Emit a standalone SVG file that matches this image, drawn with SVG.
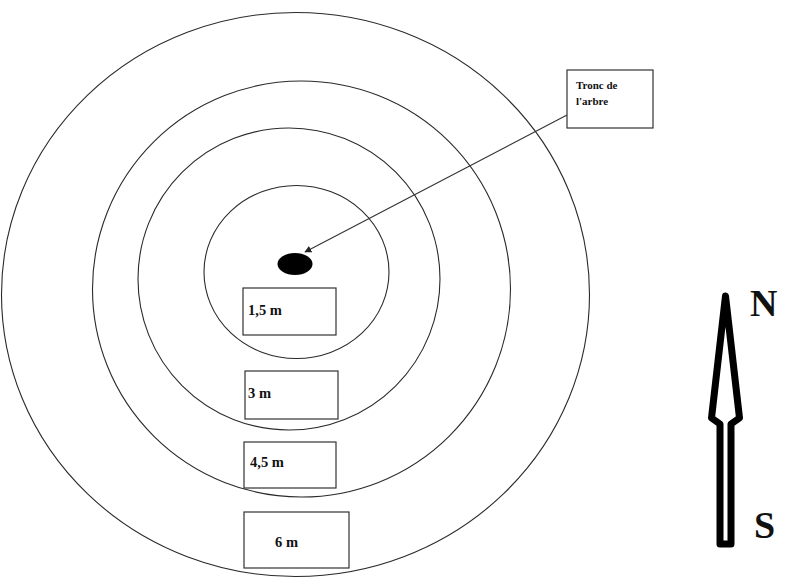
<svg xmlns="http://www.w3.org/2000/svg" width="788" height="580" viewBox="0 0 788 580">
<style>
.ring{fill:none;stroke:#2a2a2a;stroke-width:1.1}
.lbl{font-family:"Liberation Serif","Times New Roman",serif;font-weight:bold;fill:#111}
.box{fill:#fff;stroke:#333;stroke-width:1.2}
</style>
<defs>
<marker id="ah" viewBox="0 0 10 10" refX="9" refY="5" markerWidth="7" markerHeight="7" orient="auto" markerUnits="userSpaceOnUse">
<path d="M0,0 L10,5 L0,10 z" fill="#222"/>
</marker>
</defs>
<rect width="788" height="580" fill="#fff"/>
<g id="rings">
<ellipse class="ring" cx="295.5" cy="294.5" rx="294" ry="282"/>
<ellipse class="ring" cx="301.5" cy="289" rx="209" ry="208"/>
<ellipse class="ring" cx="289" cy="279" rx="151" ry="151"/>
<ellipse class="ring" cx="296.5" cy="272" rx="92.5" ry="86.5"/>
</g>
<g id="trunk">
<ellipse cx="295" cy="264" rx="17.5" ry="11" fill="#000"/>
</g>
<g id="connectors">
<line x1="567" y1="115" x2="305" y2="252" stroke="#333" stroke-width="1.1" marker-end="url(#ah)"/>
</g>
<g id="tronc-label">
<rect class="box" x="567" y="70" width="86" height="58"/>
<text class="lbl" x="576" y="89" font-size="11">Tronc de</text>
<text class="lbl" x="576" y="105" font-size="11">l'arbre</text>
</g>
<g id="lbl-1-5">
<rect class="box" x="243" y="288" width="93" height="47" stroke-width="1.5"/>
<text class="lbl" x="248" y="315" font-size="14.5">1,5 m</text>
</g>
<g id="lbl-3">
<rect class="box" x="245" y="371" width="93" height="48" stroke="#111" stroke-width="2"/>
<text class="lbl" x="248" y="398" font-size="14.5">3 m</text>
</g>
<g id="lbl-4-5">
<rect class="box" x="244" y="442" width="92" height="46" stroke="#999" stroke-width="1.2"/>
<text class="lbl" x="250" y="467" font-size="14.5">4,5 m</text>
</g>
<g id="lbl-6">
<rect class="box" x="244" y="512" width="105" height="56" stroke="#999" stroke-width="1.2"/>
<text class="lbl" x="275" y="547" font-size="14.5">6 m</text>
</g>
<g id="compass">
<path d="M725.5,296 L739.5,418 L731,424 L731,544 L720,544 L720,424 L711.5,418 Z" fill="#fff" stroke="#000" stroke-width="7" stroke-linejoin="round"/>
<text class="lbl" x="750" y="316" font-size="38">N</text>
<text class="lbl" x="754" y="538" font-size="38">S</text>
</g>
</svg>
